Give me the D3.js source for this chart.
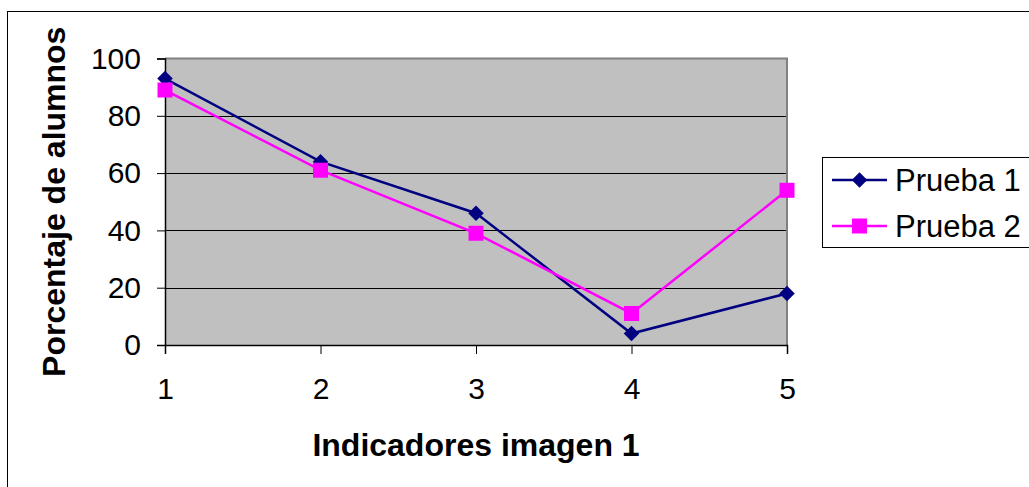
<!DOCTYPE html>
<html>
<head>
<meta charset="utf-8">
<script src="https://cdn.jsdelivr.net/npm/d3@7"></script>
<style>
html,body{margin:0;padding:0;background:#fff;}
svg{display:block;font-family:"Liberation Sans",Arial,sans-serif;}
</style>
</head>
<body>
<svg id="chart" width="1029" height="487"></svg>
<script>
const categories = [1, 2, 3, 4, 5];
const prueba1 = [93, 64, 46, 4, 18];
const prueba2 = [89, 61, 39, 11, 54];
const yTicks = [0, 20, 40, 60, 80, 100];
const seriesNames = ["Prueba 1", "Prueba 2"];
const xTitle = "Indicadores imagen 1";
const yTitle = "Porcentaje de alumnos";

const svg = d3.select("#chart");
const m = {left: 165, right: 787, top: 58.5, bottom: 345};

// outer chart border
svg.append("rect").attr("x", 7.5).attr("y", 11.5).attr("width", 1100).attr("height", 600)
  .attr("fill", "#fff").attr("stroke", "#000").attr("stroke-width", 1);

const x = d3.scaleLinear().domain([1, 5]).range([m.left, m.right]);
const y = d3.scaleLinear().domain([0, 100]).range([m.bottom, m.top]);

// plot area
svg.append("rect").attr("x", m.left).attr("y", m.top).attr("width", m.right - m.left).attr("height", m.bottom - m.top)
  .attr("fill", "#C0C0C0");

// gridlines
svg.append("g").selectAll("line").data(yTicks.filter(d => d > 0 && d < 100)).join("line")
  .attr("x1", m.left).attr("x2", m.right)
  .attr("y1", d => Math.round(y(d)) + 0.5).attr("y2", d => Math.round(y(d)) + 0.5)
  .attr("stroke", "#000").attr("stroke-width", 1);

// plot border top/right
svg.append("path")
  .attr("d", `M${m.left},${m.top} H${m.right} V${m.bottom}`)
  .attr("fill", "none").attr("stroke", "#808080").attr("stroke-width", 2);

// y axis
const yAxis = d3.axisLeft(y).tickValues(yTicks).tickSize(8).tickPadding(16).tickFormat(d3.format("d"));
const gy = svg.append("g").attr("transform", `translate(${m.left},0)`).call(yAxis);
gy.select(".domain").attr("stroke", "#000").attr("stroke-width", 1.5);
gy.selectAll(".tick line").attr("stroke", "#000");
gy.selectAll(".tick text").attr("font-size", 30).attr("fill", "#000")
  .attr("font-family", "Liberation Sans, Arial, sans-serif");

// x axis
const xAxis = d3.axisBottom(x).tickValues(categories).tickSize(9).tickPadding(24).tickFormat(d3.format("d"));
const gx = svg.append("g").attr("transform", `translate(0,${m.bottom})`).call(xAxis);
gx.select(".domain").attr("stroke", "#000").attr("stroke-width", 1.5);
gx.selectAll(".tick line").attr("stroke", "#000");
gx.selectAll(".tick text").attr("font-size", 30).attr("fill", "#000")
  .attr("font-family", "Liberation Sans, Arial, sans-serif");

// titles
svg.append("text").attr("x", (m.left + m.right) / 2).attr("y", 456)
  .attr("text-anchor", "middle").attr("font-weight", "bold").attr("font-size", 32)
  .text(xTitle);
svg.append("text").attr("transform", `translate(65,${(m.top + m.bottom) / 2}) rotate(-90)`)
  .attr("text-anchor", "middle").attr("font-weight", "bold").attr("font-size", 32)
  .text(yTitle);

const line = d3.line().x((d, i) => x(categories[i])).y(d => y(d));
const colors = ["#000080", "#FF00FF"];

// series lines
[prueba1, prueba2].forEach((s, k) => {
  svg.append("path").datum(s).attr("d", line).attr("fill", "none")
    .attr("stroke", colors[k]).attr("stroke-width", 2.5);
});

function drawMarker(g, k, cx, cy) {
  if (k === 0) {
    g.append("path").attr("d", d3.symbol().type(d3.symbolSquare).size(120)())
      .attr("transform", `translate(${cx},${cy}) rotate(45)`).attr("fill", colors[0]);
  } else {
    g.append("rect").attr("x", cx - 7.5).attr("y", cy - 7.5).attr("width", 15).attr("height", 15)
      .attr("fill", colors[1]);
  }
}
const mk = svg.append("g");
prueba1.forEach((v, i) => drawMarker(mk, 0, x(categories[i]), y(v)));
const mk2 = svg.append("g");
prueba2.forEach((v, i) => drawMarker(mk2, 1, x(categories[i]), y(v)));

// legend
const lg = svg.append("g");
lg.append("rect").attr("x", 822.5).attr("y", 157.5).attr("width", 300).attr("height", 90)
  .attr("fill", "#fff").attr("stroke", "#000").attr("stroke-width", 1);
seriesNames.forEach((name, k) => {
  const cy = 180 + k * 46;
  lg.append("line").attr("x1", 832).attr("x2", 887).attr("y1", cy).attr("y2", cy)
    .attr("stroke", colors[k]).attr("stroke-width", 2.5);
  drawMarker(lg, k, 859.5, cy);
  lg.append("text").attr("x", 895).attr("y", cy + 11).attr("font-size", 31).attr("fill", "#000")
    .text(name);
});
</script>
</body>
</html>
